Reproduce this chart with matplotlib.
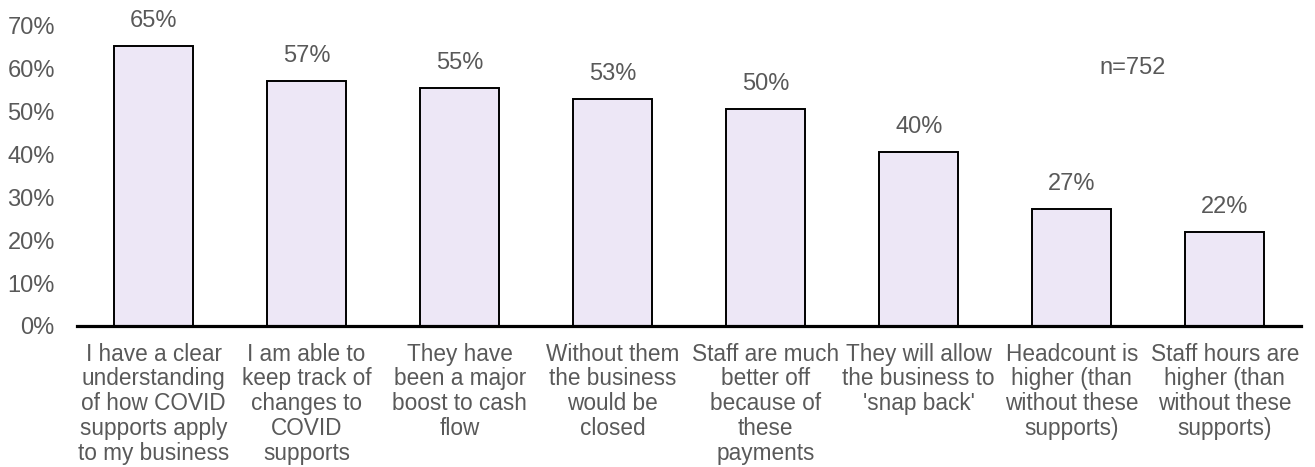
import matplotlib.pyplot as plt

plt.rcParams['font.family'] = ['Liberation Sans', 'DejaVu Sans']

# survey answers and share agreeing (%)
categorias = [
    "I have a clear\nunderstanding\nof how COVID\nsupports apply\nto my business",
    "I am able to\nkeep track of\nchanges to\nCOVID\nsupports",
    "They have\nbeen a major\nboost to cash\nflow",
    "Without them\nthe business\nwould be\nclosed",
    "Staff are much\nbetter off\nbecause of\nthese\npayments",
    "They will allow\nthe business to\n'snap back'",
    "Headcount is\nhigher (than\nwithout these\nsupports)",
    "Staff hours are\nhigher (than\nwithout these\nsupports)",
]
valores = [65.2, 57.0, 55.4, 52.9, 50.4, 40.4, 27.2, 21.9]
yticks = [0, 10, 20, 30, 40, 50, 60, 70]
n_texto = "n=752"

gris = '#595959'

fig = plt.figure(figsize=(13.15, 4.67), dpi=100)
ax = fig.add_axes([0.0586, 0.302, 0.931, 0.644])

x = range(len(valores))
ax.bar(x, valores, width=0.516, color='#EDE7F6', edgecolor='black', linewidth=1.4, zorder=2)

# etiquetas de valor arriba de cada barra
for xi, v in zip(x, valores):
    ax.annotate(f"{v:.0f}%", (xi, v), xytext=(0, 18), textcoords='offset points',
                ha='center', va='center', fontsize=17, color=gris)

ax.text(6.4, 60, n_texto, ha='center', va='center', fontsize=17, color=gris)

ax.set_xlim(-0.5, len(valores) - 0.5)
ax.set_ylim(0, 70)
ax.set_yticks(yticks)
ax.set_yticklabels([f"{t}%" for t in yticks])
ax.set_xticks(list(x))
ax.set_xticklabels(categorias, linespacing=1.1)

ax.tick_params(axis='y', length=0, pad=16, labelsize=17, labelcolor=gris)
ax.tick_params(axis='x', length=0, pad=12, labelsize=16.3, labelcolor=gris)

for lado in ['left', 'right', 'top']:
    ax.spines[lado].set_visible(False)
ax.spines['bottom'].set_linewidth(2.3)
ax.spines['bottom'].set_zorder(3)

fig.savefig('out.png', dpi=100)
